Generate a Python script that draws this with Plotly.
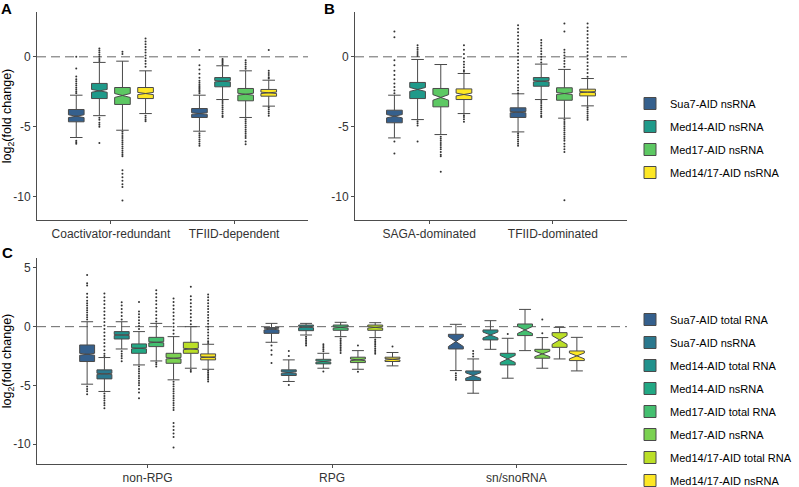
import plotly.graph_objects as go

FONT = "Liberation Sans, Arial, sans-serif"

# ---------------- Panel A / B data ----------------
AB_series = ["Sua7-AID nsRNA", "Med14-AID nsRNA", "Med17-AID nsRNA", "Med14/17-AID nsRNA"]
AB_colors = ["#35608D", "#1F9A8A", "#5DC863", "#FDE725"]

A_cats = ["Coactivator-redundant", "TFIID-dependent"]
A_q1 = [[-4.64, -4.33], [-2.98, -2.14], [-3.40, -3.14], [-2.98, -2.81]]
A_med = [[-4.24, -4.05], [-2.43, -1.74], [-2.76, -2.67], [-2.62, -2.57]]
A_q3 = [[-3.76, -3.69], [-1.90, -1.48], [-2.19, -2.26], [-2.19, -2.33]]
A_lo = [[-5.76, -5.31], [-4.20, -3.05], [-5.24, -4.33], [-4.05, -3.52]]
A_hi = [[-2.74, -2.74], [-0.40, -0.64], [-0.31, -1.00], [-1.00, -1.67]]
A_notch = [[0.10, 0.06], [0.10, 0.05], [0.14, 0.07], [0.08, 0.05]]
A_out = [
    [[0.0, -0.83, -1.4, -1.6, -1.75, -1.9, -2.05, -2.2, -2.35, -2.5, -2.6, -6.0, -6.1, -6.2],
     [0.48, -0.6, -0.9, -1.2, -1.5, -1.7, -1.85, -2.0, -2.1, -2.2, -2.3, -2.4, -2.5, -2.6,
      -5.45, -5.6, -5.75, -5.9, -6.05, -6.2, -6.35]],
    [[0.6, 0.45, 0.3, 0.15, 0.0, -0.15, -0.3, -4.35, -4.5, -4.7, -4.85, -5.0, -6.15],
     [-0.15, -0.25, -0.35, -0.45, -0.55, -3.15, -3.3, -3.45, -3.6, -3.75, -3.9, -4.05, -4.2, -4.3]],
    [[0.36, 0.2, -5.35, -5.5, -5.65, -5.8, -5.95, -6.1, -6.25, -6.4, -6.55, -6.7, -6.85, -7.0, -7.1,
      -8.1, -8.35, -8.6, -8.85, -9.1, -9.3, -10.25],
     [-0.25, -0.4, -0.55, -0.7, -0.85, -4.45, -4.6, -4.75, -4.9, -5.05, -5.2, -5.35, -5.5, -5.65,
      -5.8, -6.05, -6.25]],
    [[1.3, 1.1, 0.9, 0.7, 0.5, 0.3, 0.1, -0.1, -0.3, -0.5, -0.7, -4.2, -4.35, -4.5, -4.6],
     [0.48, -1.0, -1.15, -1.3, -1.45, -1.55, -3.6, -3.75, -3.9, -4.05, -4.2]],
]

B_cats = ["SAGA-dominated", "TFIID-dominated"]
B_q1 = [[-4.71, -4.33], [-2.98, -2.10], [-3.57, -3.10], [-3.05, -2.79]]
B_med = [[-4.24, -3.95], [-2.33, -1.74], [-2.90, -2.62], [-2.69, -2.52]]
B_q3 = [[-3.81, -3.64], [-1.83, -1.48], [-2.26, -2.21], [-2.29, -2.31]]
B_lo = [[-5.79, -5.36], [-4.48, -3.05], [-5.55, -4.38], [-4.05, -3.50]]
B_hi = [[-2.74, -2.64], [-0.19, -0.52], [-0.55, -0.90], [-1.19, -1.55]]
B_notch = [[0.12, 0.05], [0.14, 0.05], [0.20, 0.07], [0.10, 0.04]]
B_out = [
    [[1.8, 1.4, -0.25, -0.6, -1.0, -1.3, -1.6, -1.9, -2.15, -2.4, -2.6, -6.05, -6.9],
     [2.26, 2.0, 1.75, 1.5, 1.25, 1.0, 0.75, 0.5, 0.25, 0.0, -0.25, -0.5, -0.75, -1.0, -1.25, -1.5,
      -1.75, -2.0, -2.2, -2.4, -2.6, -5.45, -5.6, -5.75, -5.9, -6.05, -6.2, -6.35]],
    [[0.83, 0.65, 0.5, 0.35, 0.2, 0.05, -4.6, -4.75, -4.9, -6.05],
     [1.2, 1.0, 0.8, 0.6, 0.4, 0.2, 0.0, -0.2, -0.4, -3.15, -3.3, -3.45, -3.6, -3.75, -3.9, -4.05,
      -4.2, -4.3]],
    [[-5.7, -5.85, -6.0, -6.15, -6.3, -6.45, -6.6, -6.8, -7.0, -7.1, -8.2],
     [2.38, 1.8, 0.5, 0.3, 0.1, -0.1, -0.3, -0.5, -0.7, -4.5, -4.65, -4.8, -4.95, -5.1, -5.25, -5.4,
      -5.55, -5.7, -5.85, -6.0, -6.2, -6.4, -6.6, -6.8, -10.24]],
    [[0.83, 0.5, 0.2, -0.1, -0.35, -0.55, -0.75, -0.95, -1.07, -4.17, -4.3, -4.45, -4.64],
     [2.38, 2.1, 1.85, 1.6, 1.35, 1.1, 0.85, 0.6, 0.35, 0.1, -0.15, -0.4, -0.65, -0.9, -1.15, -1.43,
      -3.6, -3.75, -3.9, -4.05, -4.2, -4.35, -4.5]],
]

# ---------------- Panel C data ----------------
C_series = ["Sua7-AID total RNA", "Sua7-AID nsRNA", "Med14-AID total RNA", "Med14-AID nsRNA",
            "Med17-AID total RNA", "Med17-AID nsRNA", "Med14/17-AID total RNA", "Med14/17-AID nsRNA"]
C_colors = ["#35608D", "#2A788E", "#21918C", "#22A884", "#44BF70", "#7AD151", "#BBDF27", "#FDE725"]
C_cats = ["non-RPG", "RPG", "sn/snoRNA"]
C_q1 = [[-2.97, -0.57, -1.90], [-4.45, -4.16, -4.59], [-1.05, -0.34, -1.13], [-2.27, -3.17, -3.26],
        [-1.70, -0.31, -0.76], [-3.12, -3.06, -2.69], [-2.27, -0.31, -1.76], [-2.83, -2.97, -2.89]]
C_med = [[-2.35, -0.20, -1.27], [-4.02, -3.91, -4.16], [-0.71, -0.03, -0.71], [-1.84, -2.97, -2.75],
         [-1.33, -0.06, -0.28], [-2.69, -2.83, -2.32], [-1.90, -0.06, -1.13], [-2.60, -2.78, -2.49]]
C_q3 = [[-1.56, -0.08, -0.65], [-3.68, -3.68, -3.77], [-0.42, 0.14, -0.28], [-1.47, -2.78, -2.27],
        [-0.91, 0.14, 0.23], [-2.27, -2.60, -1.93], [-1.33, 0.14, -0.51], [-2.32, -2.60, -2.07]]
C_lo = [[-4.90, -1.33, -3.74], [-5.52, -4.67, -5.67], [-1.90, -0.71, -1.93], [-3.26, -3.54, -4.39],
        [-2.92, -0.85, -2.04], [-4.53, -3.63, -3.54], [-3.54, -0.93, -2.75], [-3.63, -3.34, -3.77]]
C_hi = [[0.42, 0.28, 0.20], [-2.63, -2.83, -2.75], [0.42, 0.28, 0.51], [-0.42, -2.27, -0.99],
        [0.28, 0.37, 1.47], [-0.85, -2.04, -0.93], [0.00, 0.34, -0.06], [-1.50, -2.20, -0.91]]
C_notch = [[0.08, 0.08, 0.42], [0.05, 0.07, 0.23], [0.04, 0.06, 0.25], [0.05, 0.06, 0.30],
           [0.05, 0.06, 0.30], [0.06, 0.07, 0.23], [0.06, 0.06, 0.37], [0.04, 0.06, 0.25]]
C_out = [
    [[4.4, 3.7, 3.5, 2.8, 2.5, 2.2, 2.0, 1.8, 1.6, 1.4, 1.2, 1.0, 0.8, 0.6, -5.1, -5.3, -5.5, -5.75],
     [-1.6, -2.0, -2.4, -3.1], [-3.97, -4.15, -4.35, -4.53]],
    [[2.83, 2.5, 2.2, 1.9, 1.6, 1.3, 1.0, 0.7, 0.4, 0.1, -0.2, -0.5, -0.8, -1.1, -1.4, -1.7, -2.0,
      -2.3, -2.5, -5.7, -5.9, -6.1, -6.3, -6.5, -6.7, -6.95],
     [-2.07, -2.5, -4.96], [-2.07, -2.3, -2.55]],
    [[2.07, 1.8, 1.5, 1.2, 0.9, 0.6, -2.1, -2.3, -2.5, -2.7, -2.95],
     [-0.85, -1.0, -1.15, -1.3, -1.45, -1.6], []],
    [[2.1, 1.3, 1.05, 0.8, 0.55, 0.3, 0.05, -0.2, -3.4, -3.6, -3.8, -4.0, -4.2, -4.4, -4.6, -4.8,
      -5.0, -5.3, -5.6, -6.1],
     [-1.5, -1.65, -1.8, -1.95, -2.1, -3.82], [-0.62]],
    [[3.1, 2.8, 2.5, 2.2, 1.9, 1.6, 1.3, 1.0, 0.7, 0.45, -3.05, -3.2, -3.4],
     [-1.0, -1.15, -1.3, -1.45, -1.6, -1.75, -1.9, -2.05, -2.25], []],
    [[2.4, 2.1, 1.8, 1.5, 1.2, 0.9, 0.6, 0.3, 0.0, -0.3, -0.6, -4.7, -4.9, -5.1, -5.3, -5.5, -5.7,
      -5.9, -6.1, -6.3, -6.5, -6.7, -6.9, -7.1, -8.2, -8.5, -8.8, -9.1, -9.4, -10.3],
     [-1.6, -3.85], [0.62, -0.57]],
    [[3.4, 2.6, 2.3, 2.0, 1.7, 1.4, 1.1, 0.8, 0.5, 0.2, -3.7, -3.85],
     [-1.1, -1.25, -1.4, -1.55, -1.7, -1.85, -2.0, -2.15, -2.3], []],
    [[2.75, 2.5, 2.25, 2.0, 1.75, 1.5, 1.25, 1.0, 0.75, 0.5, 0.25, 0.0, -0.25, -0.5, -0.75, -1.0,
      -1.25, -1.4, -3.75, -3.9, -4.05, -4.2, -4.35, -4.5, -4.67],
     [-1.7], []],
]

AB_ticks = [0, -5, -10]
C_ticks = [5, 0, -5, -10]

fig = go.Figure()

LINE = "#4a4a4a"
DODGE = 0.75


def add_panel(xa, ya, cats, series, colors, q1, med, q3, lo, hi, notch, outs, bw, legend, showleg):
    n = len(series)
    slot = DODGE / n
    for i, name in enumerate(series):
        off = -DODGE / 2 + slot * (i + 0.5)
        xs = [k + 1 + off for k in range(len(cats))]
        fig.add_trace(go.Box(
            x=xs, q1=q1[i], median=med[i], q3=q3[i], lowerfence=lo[i], upperfence=hi[i],
            notchspan=notch[i], notched=True, notchwidth=0.5, width=bw,
            fillcolor=colors[i], line=dict(color=LINE, width=1), whiskerwidth=0.8,
            boxpoints=False, name=name, xaxis=xa, yaxis=ya,
            showlegend=showleg, legend=legend, legendgroup=legend + str(i),
        ))
        ox, oy = [], []
        for k in range(len(cats)):
            for v in outs[i][k]:
                ox.append(xs[k])
                oy.append(v)
        fig.add_trace(go.Scatter(
            x=ox, y=oy, mode="markers", marker=dict(size=2, color="#333333"),
            xaxis=xa, yaxis=ya, showlegend=False, hoverinfo="y",
        ))


add_panel("x", "y", A_cats, AB_series, AB_colors, A_q1, A_med, A_q3, A_lo, A_hi, A_notch, A_out,
          0.127, "legend", True)
add_panel("x2", "y2", B_cats, AB_series, AB_colors, B_q1, B_med, B_q3, B_lo, B_hi, B_notch, B_out,
          0.127, "legend", False)
add_panel("x3", "y3", C_cats, C_series, C_colors, C_q1, C_med, C_q3, C_lo, C_hi, C_notch, C_out,
          0.081, "legend2", True)

W, H = 799, 487
axis_common = dict(showline=True, linecolor="#4d4d4d", linewidth=1, ticks="outside", ticklen=3,
                   tickcolor="#4d4d4d", showgrid=False, zeroline=False, automargin=False,
                   tickfont=dict(family=FONT, size=12, color="#333333"))

xA = [37 / W, 308 / W]
xB = [355 / W, 627 / W]
yAB = [1 - 220 / H, 1 - 12 / H]
yC = [1 - 464 / H, 1 - 258 / H]

ytitle = dict(text="log<sub>2</sub>(fold change)", font=dict(family=FONT, size=12.5, color="#000"),
              standoff=6)

fig.update_layout(
    width=W, height=H, margin=dict(l=0, r=0, t=0, b=0, autoexpand=False),
    paper_bgcolor="white", plot_bgcolor="white",
    font=dict(family=FONT, color="#000"),
    boxmode="overlay",
    xaxis=dict(domain=xA, range=[0.4, 2.6], tickvals=[1, 2], ticktext=A_cats, anchor="y", **axis_common),
    yaxis=dict(domain=yAB, range=[-11.65, 3.2], tickvals=AB_ticks, ticktext=[str(t) for t in AB_ticks],
               anchor="x", title=ytitle, **axis_common),
    xaxis2=dict(domain=xB, range=[0.4, 2.6], tickvals=[1, 2], ticktext=B_cats, anchor="y2", **axis_common),
    yaxis2=dict(domain=yAB, range=[-11.65, 3.2], tickvals=AB_ticks, ticktext=[str(t) for t in AB_ticks],
                anchor="x2", **axis_common),
    xaxis3=dict(domain=[xA[0], xB[1]], range=[0.4, 3.6], tickvals=[1, 2, 3], ticktext=C_cats, anchor="y3",
                **axis_common),
    yaxis3=dict(domain=yC, range=[-11.7, 5.85], tickvals=C_ticks, ticktext=[str(t) for t in C_ticks],
                anchor="x3", title=ytitle, **axis_common),
    legend=dict(x=630 / W, y=1 - 89 / H, xanchor="left", yanchor="top", traceorder="grouped",
                tracegroupgap=4, font=dict(family=FONT, size=11, color="#000"), bgcolor="rgba(0,0,0,0)"),
    legend2=dict(x=630 / W, y=1 - 305 / H, xanchor="left", yanchor="top", traceorder="grouped",
                 tracegroupgap=4, font=dict(family=FONT, size=11, color="#000"), bgcolor="rgba(0,0,0,0)"),
)

dash = dict(color="#666666", width=1, dash="9px,5px")
for xr, yr in [("x", "y"), ("x2", "y2"), ("x3", "y3")]:
    fig.add_shape(type="line", xref=xr + " domain", yref=yr, x0=0, x1=1, y0=0, y1=0, line=dash,
                  layer="below")

for txt, px, py in [("A", -1, 8), ("B", 322, 8), ("C", 0, 252)]:
    fig.add_annotation(text="<b>%s</b>" % txt, xref="paper", yref="paper", x=px / W, y=1 - py / H,
                       xanchor="left", yanchor="middle", showarrow=False,
                       font=dict(family=FONT, size=15, color="#000"))

fig.write_html("out.html", config={"displayModeBar": False},
               post_script="document.body.style.margin='0';document.body.style.padding='0';")
